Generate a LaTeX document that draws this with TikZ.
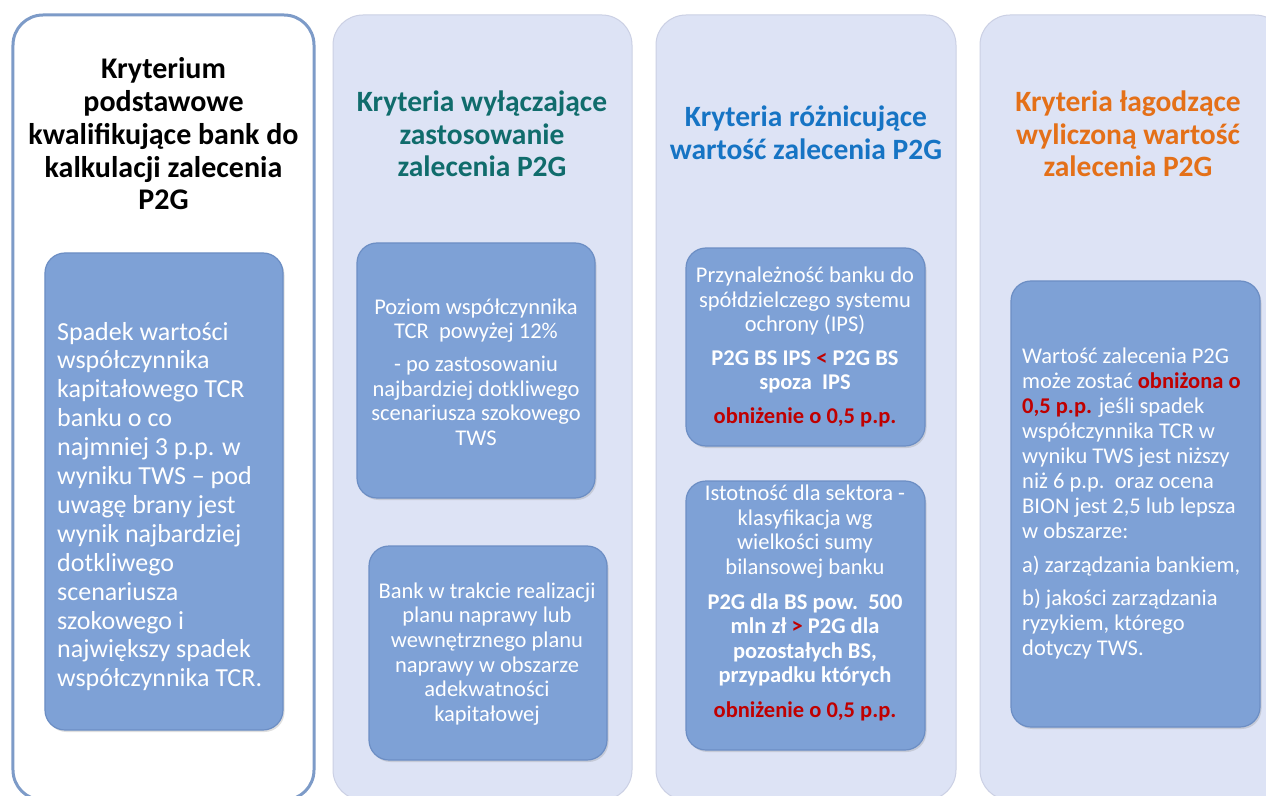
\documentclass[tikz,border=0pt]{standalone}
\usepackage{fontspec}
\setmainfont{Carlito}
\usetikzlibrary{shadows}
\definecolor{panelfill}{RGB}{221,227,245}
\definecolor{panelline}{RGB}{203,208,228}
\definecolor{outlineA}{RGB}{125,155,200}
\definecolor{boxfill}{RGB}{126,161,214}
\definecolor{boxline}{RGB}{108,142,196}
\definecolor{tealT}{RGB}{16,108,108}
\definecolor{blueT}{RGB}{22,116,196}
\definecolor{orangeT}{RGB}{228,112,24}
\definecolor{redT}{RGB}{192,0,0}
\tikzset{
  panelbox/.style={draw=panelline, line width=1bp, fill=panelfill, rounded corners=30bp, inner sep=0pt},
  mainpanel/.style={draw=outlineA, line width=3bp, fill=white, rounded corners=30bp, inner sep=0pt},
  bluebox/.style={draw=boxline, line width=1.2bp, fill=boxfill, rounded corners=20bp, inner sep=0pt,
    drop shadow={shadow xshift=1.5bp, shadow yshift=-2bp, opacity=0.25}},
  titletext/.style={align=center, inner sep=0pt, font=\bfseries\fontsize{29.5bp}{32.7bp}\selectfont},
  boxtext/.style={align=center, inner sep=0pt, text=white, font=\fontsize{22.5bp}{24.6bp}\selectfont},
  lefttext/.style={align=left, inner sep=0pt, text=white, anchor=west}
}
\begin{document}
\begin{tikzpicture}[x=1bp,y=-1bp]
\useasboundingbox (0,0) rectangle (1266,796);
\clip (0,0) rectangle (1266,796);
\fill[white] (0,0) rectangle (1266,796);
% panels
\node[mainpanel, minimum width=301bp, minimum height=785bp] (p1) at (163.5,407.5) {};
\node[panelbox, minimum width=299bp, minimum height=785bp] (p2) at (482.5,407.5) {};
\node[panelbox, minimum width=300bp, minimum height=785bp] (p3) at (806,407.5) {};
\node[panelbox, minimum width=305bp, minimum height=785bp] (p4) at (1132.5,407.5) {};
% titles
\node[titletext, font=\bfseries\fontsize{30bp}{32.75bp}\selectfont] (t1) at (163.5,134)
  {Kryterium\\podstawowe\\kwalifikujące bank do\\kalkulacji zalecenia\\P2G};
\node[titletext, text=tealT] (t2) at (482,134) {Kryteria wyłączające\\zastosowanie\\zalecenia P2G};
\node[titletext, text=blueT] (t3) at (806,133) {Kryteria różnicujące\\wartość zalecenia P2G};
\node[titletext, text=orangeT] (t4) at (1128,134) {Kryteria łagodzące\\wyliczoną wartość\\zalecenia P2G};
% inner boxes
\node[bluebox, minimum width=238bp, minimum height=477bp] (b1) at (164,491.5) {};
\node[bluebox, minimum width=238bp, minimum height=255bp] (b2a) at (476,370.5) {};
\node[bluebox, minimum width=238bp, minimum height=214bp] (b2b) at (488,653) {};
\node[bluebox, minimum width=239bp, minimum height=198bp] (b3a) at (805.5,347) {};
\node[bluebox, minimum width=239bp, minimum height=269bp] (b3b) at (805.5,615.5) {};
\node[bluebox, minimum width=249bp, minimum height=446bp] (b4) at (1135.5,504) {};
% box texts
\node[lefttext, font=\fontsize{26bp}{28.9bp}\selectfont] (x1) at (57,506.5)
  {Spadek wartości\\współczynnika\\kapitałowego TCR\\banku o co\\najmniej 3 p.p. w\\wyniku TWS – pod\\uwagę brany jest\\wynik najbardziej\\dotkliwego\\scenariusza\\szokowego i\\największy spadek\\współczynnika TCR.};
\node[boxtext] (x2a) at (476,372)
  {Poziom współczynnika\\TCR\ \ powyżej 12\%\\[8bp]- po zastosowaniu\\najbardziej dotkliwego\\scenariusza szokowego\\TWS};
\node[boxtext] (x2b) at (487,654)
  {Bank w trakcie realizacji\\planu naprawy lub\\wewnętrznego planu\\naprawy w obszarze\\adekwatności\\kapitałowej};
\node[boxtext] (x3a) at (805,347)
  {Przynależność banku do\\spółdzielczego systemu\\ochrony (IPS)\\[9bp]\textbf{P2G BS IPS \textcolor{redT}{<} P2G BS}\\\textbf{spoza\ \ IPS}\\[9bp]\textbf{\textcolor{redT}{obniżenie o 0,5 p.p.}}};
\node[boxtext] (x3b) at (805,603)
  {Istotność dla sektora -\\klasyfikacja wg\\wielkości sumy\\bilansowej banku\\[10bp]\textbf{P2G dla BS pow.\ \ 500}\\\textbf{mln zł \textcolor{redT}{>} P2G dla}\\\textbf{pozostałych BS,}\\\textbf{przypadku których}\\[10bp]\textbf{\textcolor{redT}{obniżenie o 0,5 p.p.}}};
\node[lefttext, font=\fontsize{22.5bp}{25bp}\selectfont] (x4) at (1022,503)
  {Wartość zalecenia P2G\\może zostać \textbf{\textcolor{redT}{obniżona o}}\\\textbf{\textcolor{redT}{0,5 p.p.}} jeśli spadek\\współczynnika TCR w\\wyniku TWS jest niższy\\niż 6 p.p.\ \ oraz ocena\\BION jest 2,5 lub lepsza\\w obszarze:\\[9bp]a) zarządzania bankiem,\\[8bp]b) jakości zarządzania\\ryzykiem, którego\\dotyczy TWS.};
\end{tikzpicture}
\end{document}
